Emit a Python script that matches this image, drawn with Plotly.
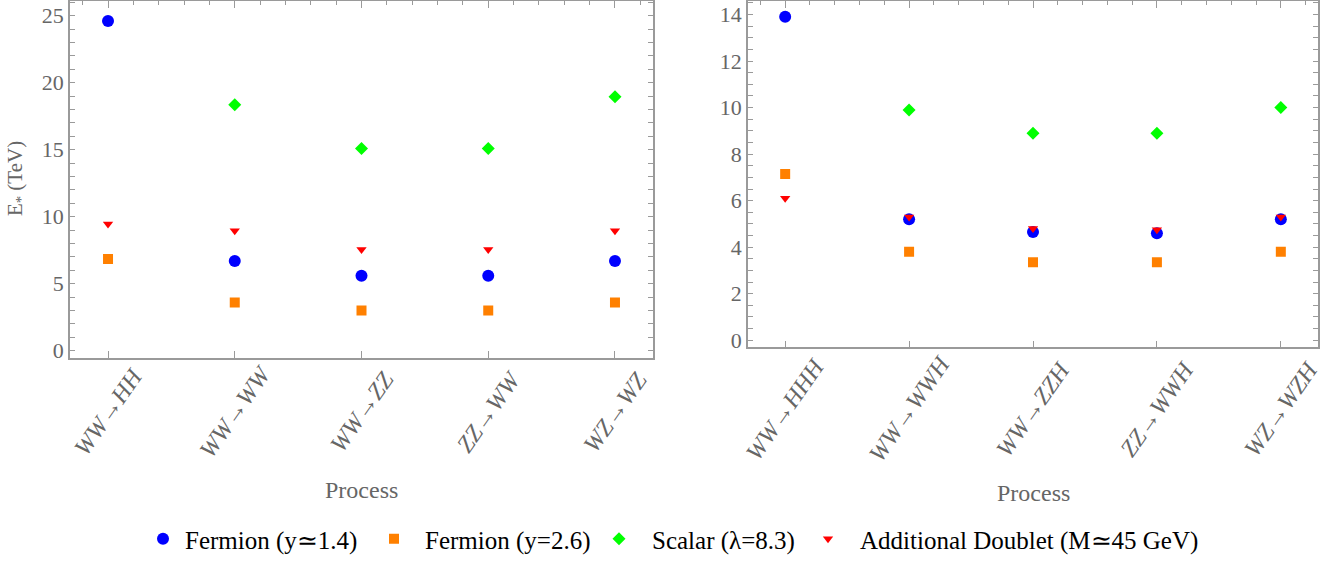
import plotly.graph_objects as go

# ---------------- data ----------------
proc_left = ["WW→HH", "WW→WW", "WW→ZZ", "ZZ→WW", "WZ→WZ"]
proc_right = ["WW→HHH", "WW→WWH", "WW→ZZH", "ZZ→WWH", "WZ→WZH"]

series_names = ["Fermion (y≃1.4)", "Fermion (y=2.6)", "Scalar (λ=8.3)",
                "Additional Doublet (M≃45 GeV)"]

left_fermion14 = [24.6, 6.7, 5.6, 5.6, 6.7]
left_fermion26 = [6.85, 3.6, 3.0, 3.0, 3.6]
left_scalar = [None, 18.35, 15.1, 15.1, 18.95]
left_doublet = [9.45, 8.95, 7.55, 7.55, 8.95]

right_fermion14 = [13.9, 5.2, 4.65, 4.6, 5.2]
right_fermion26 = [7.15, 3.8, 3.35, 3.35, 3.8]
right_scalar = [None, 9.9, 8.9, 8.9, 10.0]
right_doublet = [6.1, 5.3, 4.8, 4.75, 5.3]

left_yticks = [0, 5, 10, 15, 20, 25]
right_yticks = [0, 2, 4, 6, 8, 10, 12, 14]

# ---------------- styles ----------------
colors = ["#0000FF", "#FF8000", "#00FF00", "#FF0000"]
symbols = ["circle", "square", "diamond", "triangle-down"]
sizes = [12, 10, 10, 9]
FRAME = "#9a9a9a"
TXT = "#666666"
SERIF = "Liberation Serif"
LEGF = "Liberation Serif"

W, H = 1330, 562
def px_x(p):
    return p / W
def px_y(p):
    return 1 - p / H

# legend placement (text start px, item width)
leg_text_start = [185, 425, 652, 860]
leg_itemwidth = [34, 52, 56, 54]
leg_ids = ["legend", "legend2", "legend3", "legend4"]

fig = go.Figure()

left_data = [left_fermion14, left_fermion26, left_scalar, left_doublet]
right_data = [right_fermion14, right_fermion26, right_scalar, right_doublet]
xidx = list(range(len(proc_left)))

for i in range(4):
    fig.add_trace(go.Scatter(
        x=xidx, y=left_data[i], mode="markers", name=series_names[i],
        marker=dict(color=colors[i], symbol=symbols[i], size=sizes[i], line=dict(width=0)),
        xaxis="x", yaxis="y", showlegend=True, legendgroup=str(i), legend=leg_ids[i]))
for i in range(4):
    fig.add_trace(go.Scatter(
        x=xidx, y=right_data[i], mode="markers", name=series_names[i],
        marker=dict(color=colors[i], symbol=symbols[i], size=sizes[i], line=dict(width=0)),
        xaxis="x2", yaxis="y2", showlegend=False, legendgroup=str(i), legend=leg_ids[i]))

xr = [-0.3, 4.3]

common_x = dict(
    range=xr, tickmode="array", tickvals=xidx, ticks="inside", ticklen=7,
    tickcolor=FRAME, tickwidth=1, showline=True, linecolor=FRAME, linewidth=1.5,
    mirror=True, showgrid=False, zeroline=False, showticklabels=False,
    automargin=False, fixedrange=True,
)
common_y = dict(
    ticks="inside", ticklen=5, tickcolor=FRAME, tickwidth=1, showline=True,
    linecolor=FRAME, linewidth=1.5, mirror="allticks", showgrid=False,
    zeroline=False, tickfont=dict(family=SERIF, size=22, color=TXT),
    automargin=False, fixedrange=True,
)
top_x = dict(
    range=xr, tickmode="array", tickvals=xidx, ticks="inside", ticklen=7,
    tickcolor=FRAME, tickwidth=1, showline=False, showticklabels=False,
    showgrid=False, zeroline=False, side="top", automargin=False,
    minor=dict(tickmode="linear", tick0=0, dtick=0.2, ticks="inside", ticklen=4,
               tickcolor=FRAME, tickwidth=1, showgrid=False),
)

left_dom_x = [px_x(70), px_x(653)]
right_dom_x = [px_x(748), px_x(1318)]

legends = {}
for i, lid in enumerate(leg_ids):
    legends[lid] = dict(
        orientation="h", x=px_x(leg_text_start[i] - leg_itemwidth[i] - 10), xanchor="left",
        y=px_y(545), yanchor="middle", font=dict(family=LEGF, size=25, color="black"),
        itemsizing="trace", bgcolor="rgba(0,0,0,0)", itemwidth=leg_itemwidth[i],
        borderwidth=0)

annotations = [
    dict(text="Process", x=px_x(361), y=px_y(495), xref="paper", yref="paper",
         showarrow=False, font=dict(family=SERIF, size=24, color=TXT),
         xanchor="center", yanchor="middle"),
    dict(text="Process", x=px_x(1033), y=px_y(498), xref="paper", yref="paper",
         showarrow=False, font=dict(family=SERIF, size=24, color=TXT),
         xanchor="center", yanchor="middle"),
    dict(text="E<sub>*</sub> (TeV)", x=px_x(16), y=px_y(181), xref="paper", yref="paper",
         showarrow=False, textangle=-90, font=dict(family=SERIF, size=21, color=TXT),
         xanchor="center", yanchor="middle"),
]
# rotated category labels, centred under their ticks (like the reference)
for i, lab in enumerate(proc_left):
    annotations.append(dict(
        text=lab, x=xidx[i], y=px_y(416), xref="x", yref="paper", showarrow=False,
        textangle=-55, xanchor="center", yanchor="middle",
        font=dict(family=SERIF, size=24, color=TXT, style="italic")))
for i, lab in enumerate(proc_right):
    annotations.append(dict(
        text=lab, x=xidx[i], y=px_y(413), xref="x2", yref="paper", showarrow=False,
        textangle=-55, xanchor="center", yanchor="middle",
        font=dict(family=SERIF, size=24, color=TXT, style="italic")))

fig.update_layout(
    width=W, height=H, margin=dict(l=0, r=0, t=0, b=0),
    paper_bgcolor="white", plot_bgcolor="white",
    font=dict(family=SERIF),
    xaxis=dict(common_x, domain=left_dom_x, anchor="y"),
    yaxis=dict(common_y, domain=[px_y(362), px_y(1)], range=[-0.55, 26.1],
               tickvals=left_yticks, anchor="x",
               minor=dict(tickmode="linear", tick0=0, dtick=1, ticks="inside",
                          ticklen=3.5, tickcolor=FRAME, showgrid=False)),
    xaxis2=dict(common_x, domain=right_dom_x, anchor="y2"),
    yaxis2=dict(common_y, domain=[px_y(351), px_y(1)], range=[-0.3, 14.58],
                tickvals=right_yticks, anchor="x2",
                minor=dict(tickmode="linear", tick0=0, dtick=0.5, ticks="inside",
                           ticklen=3.5, tickcolor=FRAME, showgrid=False)),
    xaxis3=dict(top_x, overlaying="x", anchor="y"),
    xaxis4=dict(top_x, overlaying="x2", anchor="y2"),
    annotations=annotations,
    **legends,
)

# dummy traces so overlay axes render
fig.add_trace(go.Scatter(x=[None], y=[None], xaxis="x3", yaxis="y", showlegend=False, hoverinfo="skip"))
fig.add_trace(go.Scatter(x=[None], y=[None], xaxis="x4", yaxis="y2", showlegend=False, hoverinfo="skip"))

fig.write_html("out.html", config={"displayModeBar": False},
               post_script="document.body.style.margin='0';document.body.style.overflow='hidden';")
